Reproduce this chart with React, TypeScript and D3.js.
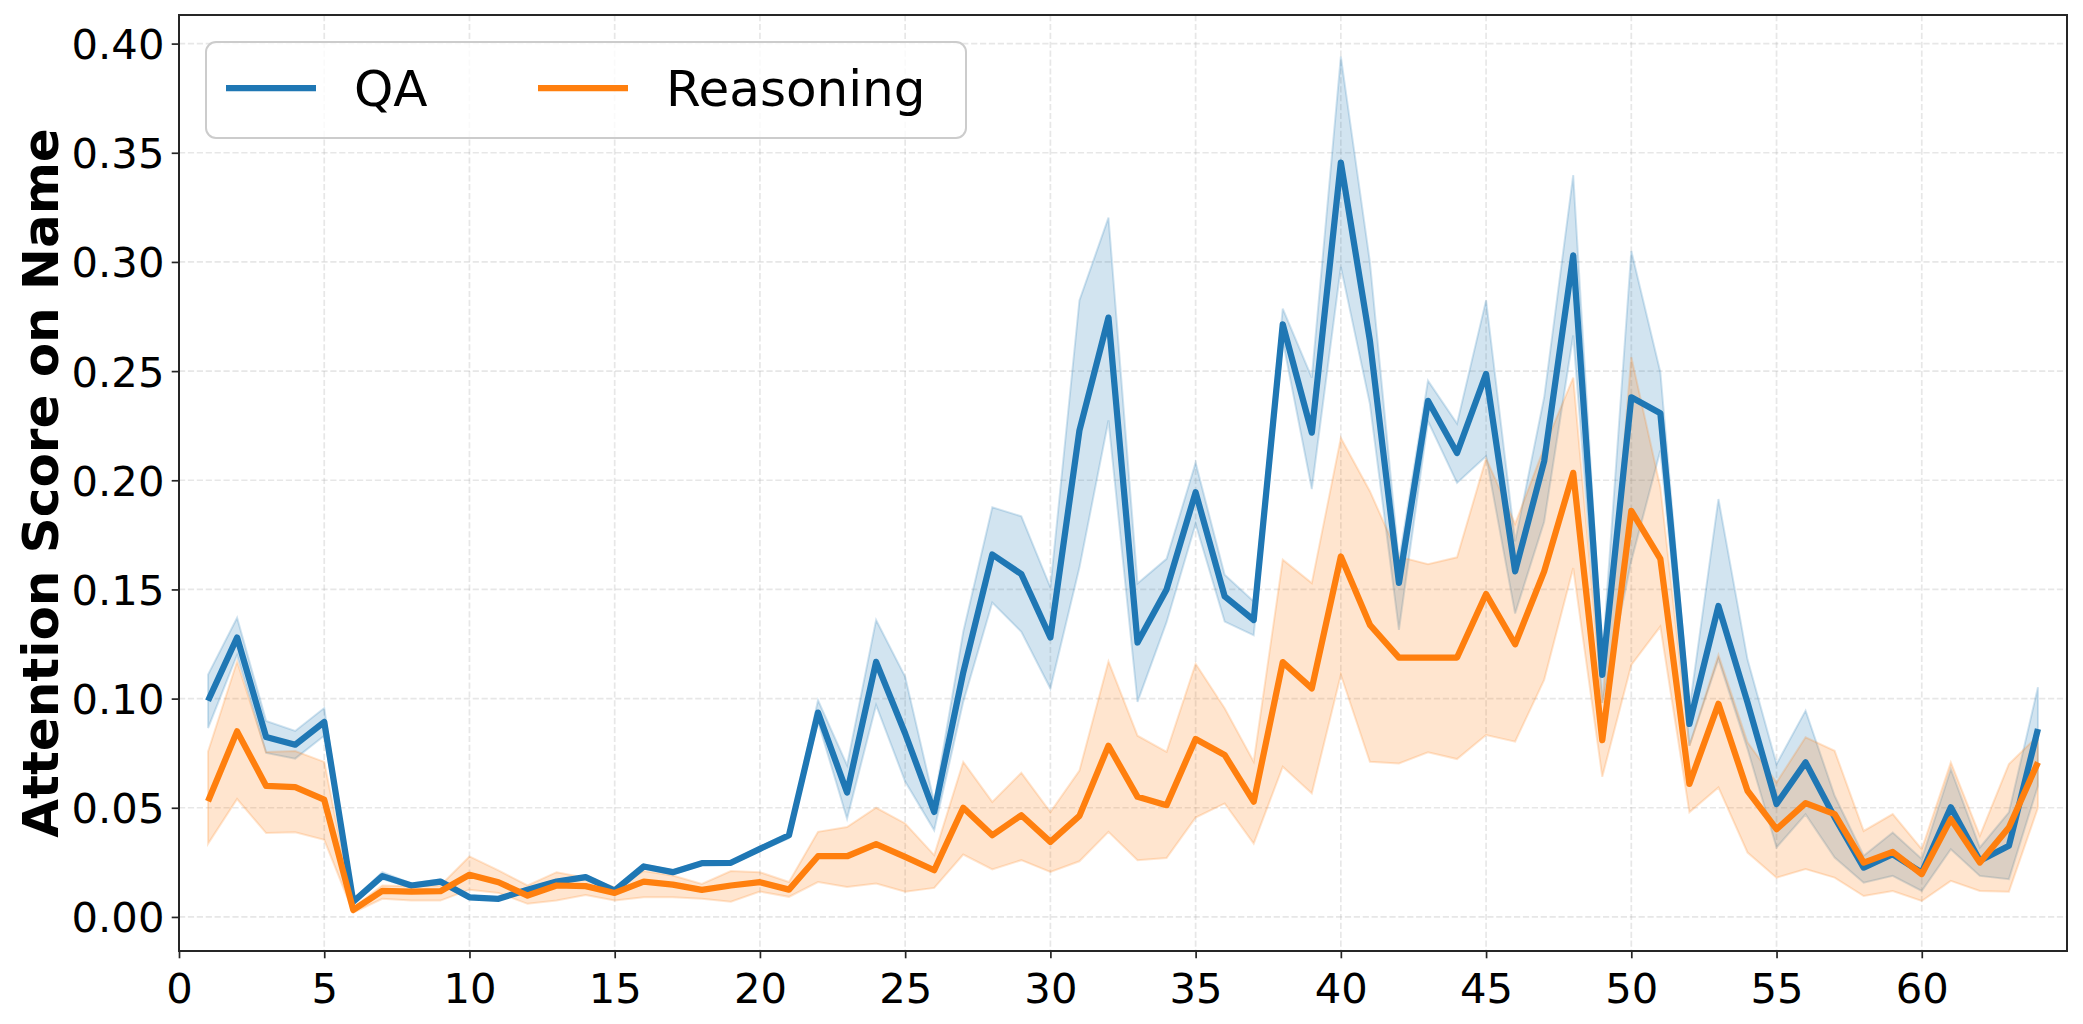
import { useEffect, useRef } from 'react';
import * as d3 from 'd3';

// layer index 1..64
const layers = d3.range(1, 65);

const qaMean = [
  0.099, 0.128, 0.0824, 0.0789, 0.0893, 0.007, 0.0187, 0.0144, 0.0162, 0.009,
  0.0083, 0.0125, 0.0162, 0.0182, 0.0121, 0.0231, 0.0205, 0.0246, 0.0248, 0.0312,
  0.0374, 0.0936, 0.057, 0.1168, 0.084, 0.0481, 0.112, 0.166, 0.157, 0.128,
  0.2228, 0.2745, 0.1257, 0.15, 0.1945, 0.1468, 0.136, 0.2714, 0.2218, 0.3455,
  0.264, 0.153, 0.2364, 0.2125, 0.2487, 0.1583, 0.2087, 0.303, 0.1109, 0.238,
  0.2307, 0.0884, 0.1424, 0.0983, 0.0517, 0.0708, 0.0456, 0.0226, 0.0287, 0.0203,
  0.0502, 0.0257, 0.0326, 0.0861,
];
const qaLower = [
  0.0865, 0.12, 0.0751, 0.0725, 0.083, 0.006, 0.0174, 0.0135, 0.0152, 0.0082,
  0.0076, 0.0117, 0.0154, 0.0173, 0.0113, 0.0222, 0.0196, 0.0238, 0.024, 0.0303,
  0.036, 0.0894, 0.045, 0.097, 0.062, 0.0397, 0.0985, 0.144, 0.1306, 0.1046,
  0.16, 0.2274, 0.0985, 0.135, 0.18, 0.1353, 0.129, 0.264, 0.196, 0.2977,
  0.235, 0.1315, 0.227, 0.1988, 0.211, 0.139, 0.181, 0.2663, 0.098, 0.163,
  0.2136, 0.0784, 0.118, 0.077, 0.0318, 0.047, 0.0272, 0.0157, 0.0188, 0.0119,
  0.031, 0.0188, 0.0173, 0.06,
];
const qaUpper = [
  0.111, 0.137, 0.0898, 0.0852, 0.0957, 0.008, 0.0205, 0.0153, 0.0172, 0.0098,
  0.009, 0.0133, 0.017, 0.0191, 0.0129, 0.024, 0.0214, 0.0254, 0.0256, 0.0321,
  0.0385, 0.0993, 0.0695, 0.136, 0.11, 0.0527, 0.1306, 0.1876, 0.1835, 0.151,
  0.2824, 0.3203, 0.1527, 0.164, 0.208, 0.1567, 0.1445, 0.2786, 0.247, 0.394,
  0.3, 0.163, 0.2456, 0.226, 0.2824, 0.172, 0.238, 0.3398, 0.118, 0.305,
  0.2495, 0.0953, 0.1914, 0.118, 0.07, 0.0945, 0.0555, 0.028, 0.0387, 0.0265,
  0.0677, 0.0318, 0.0479, 0.1052,
];

const reasoningMean = [
  0.053, 0.085, 0.06, 0.0595, 0.0537, 0.0032, 0.0119, 0.0116, 0.0118, 0.0193,
  0.0159, 0.0098, 0.0144, 0.0141, 0.011, 0.0162, 0.0148, 0.0124, 0.0144, 0.0159,
  0.0125, 0.0278, 0.0278, 0.0333, 0.0275, 0.0214, 0.05, 0.0374, 0.0466, 0.0344,
  0.0463, 0.0784, 0.055, 0.0512, 0.0815, 0.0742, 0.0528, 0.1167, 0.1047, 0.1651,
  0.1338, 0.1188, 0.1188, 0.1188, 0.1479, 0.1249, 0.1583, 0.2034, 0.081, 0.186,
  0.164, 0.0609, 0.0976, 0.0578, 0.0402, 0.0521, 0.0471, 0.0249, 0.0298, 0.0196,
  0.0448, 0.0249, 0.041, 0.0708,
];
const reasoningLower = [
  0.0335, 0.054, 0.0384, 0.0388, 0.0353, 0.002, 0.0083, 0.0075, 0.0075, 0.0125,
  0.011, 0.006, 0.0075, 0.01, 0.0075, 0.009, 0.009, 0.0083, 0.007, 0.0116,
  0.0092, 0.016, 0.0137, 0.0153, 0.0115, 0.0133, 0.0286, 0.0218, 0.026, 0.0206,
  0.0255, 0.039, 0.026, 0.027, 0.0455, 0.052, 0.0336, 0.0688, 0.0566, 0.1109,
  0.0711, 0.0703, 0.0754, 0.0723, 0.0833, 0.0803, 0.1086, 0.1598, 0.0642, 0.1154,
  0.133, 0.0479, 0.0593, 0.0295, 0.018, 0.0219, 0.018, 0.0096, 0.0119, 0.0073,
  0.0165, 0.0119, 0.0115, 0.05,
];
const reasoningUpper = [
  0.0758, 0.117, 0.0755, 0.076, 0.071, 0.0044, 0.0144, 0.014, 0.0144, 0.0277,
  0.0213, 0.0144, 0.0205, 0.018, 0.0136, 0.021, 0.019, 0.0151, 0.021, 0.0205,
  0.016, 0.039, 0.0412, 0.05, 0.0428, 0.0283, 0.071, 0.0527, 0.066, 0.048,
  0.067, 0.117, 0.083, 0.0756, 0.116, 0.0956, 0.0711, 0.1636, 0.1529, 0.2194,
  0.195, 0.165, 0.1616, 0.1647, 0.21, 0.18, 0.215, 0.247, 0.098, 0.2564,
  0.1968, 0.0784, 0.12, 0.08, 0.0616, 0.0823, 0.0761, 0.0394, 0.0471, 0.031,
  0.0708, 0.0372, 0.07, 0.083,
];

const xTicks = d3.range(0, 65, 5);
const yTicks = d3.range(0, 0.401, 0.05);

const series = [
  { name: 'QA', color: '#1f77b4', mean: qaMean, lower: qaLower, upper: qaUpper },
  { name: 'Reasoning', color: '#ff7f0e', mean: reasoningMean, lower: reasoningLower, upper: reasoningUpper },
];

const WIDTH = 2083;
const HEIGHT = 1024;
const FONT = 'DejaVu Sans, sans-serif';

export default function App() {
  const svgRef = useRef<SVGSVGElement>(null);

  useEffect(() => {
    document.body.style.margin = '0';
    if (!svgRef.current) return;

    const svg = d3.select(svgRef.current);
    svg.selectAll('*').remove();

    const margin = { top: 15, right: 16, bottom: 73, left: 179 };
    const innerWidth = WIDTH - margin.left - margin.right;
    const innerHeight = HEIGHT - margin.top - margin.bottom;

    const g = svg.append('g')
      .attr('transform', `translate(${margin.left},${margin.top})`);

    const xScale = d3.scaleLinear().domain([0, 65]).range([0, innerWidth]);
    const yScale = d3.scaleLinear().domain([-0.0156, 0.4131]).range([innerHeight, 0]);

    // Grid lines
    g.selectAll('.grid-y')
      .data(yTicks)
      .enter()
      .append('line')
      .attr('x1', 0)
      .attr('x2', innerWidth)
      .attr('y1', d => yScale(d))
      .attr('y2', d => yScale(d))
      .attr('stroke', '#b0b0b0')
      .attr('stroke-opacity', 0.3)
      .attr('stroke-width', 1.7)
      .attr('stroke-dasharray', '6.2,2.7');

    g.selectAll('.grid-x')
      .data(xTicks)
      .enter()
      .append('line')
      .attr('x1', d => xScale(d))
      .attr('x2', d => xScale(d))
      .attr('y1', 0)
      .attr('y2', innerHeight)
      .attr('stroke', '#b0b0b0')
      .attr('stroke-opacity', 0.3)
      .attr('stroke-width', 1.7)
      .attr('stroke-dasharray', '6.2,2.7');

    // Confidence bands
    series.forEach(s => {
      const area = d3.area<number>()
        .x(d => xScale(d))
        .y0((_, i) => yScale(s.lower[i]))
        .y1((_, i) => yScale(s.upper[i]));

      g.append('path')
        .datum(layers)
        .attr('fill', s.color)
        .attr('fill-opacity', 0.2)
        .attr('stroke', s.color)
        .attr('stroke-opacity', 0.2)
        .attr('stroke-width', 2)
        .attr('d', area);
    });

    // Mean lines
    series.forEach(s => {
      const line = d3.line<number>()
        .x(d => xScale(d))
        .y((_, i) => yScale(s.mean[i]));

      g.append('path')
        .datum(layers)
        .attr('fill', 'none')
        .attr('stroke', s.color)
        .attr('stroke-width', 6.25)
        .attr('stroke-linejoin', 'round')
        .attr('stroke-linecap', 'butt')
        .attr('d', line);
    });

    // X Axis
    const xAxis = g.append('g')
      .attr('transform', `translate(0,${innerHeight})`)
      .call(d3.axisBottom(xScale).tickValues(xTicks).tickSize(7.3).tickPadding(7.3).tickFormat(d3.format('d')));

    xAxis.select('.domain').remove();
    xAxis.selectAll('line').attr('stroke', '#262626').attr('stroke-width', 1.7);
    xAxis.selectAll('text')
      .attr('dy', '0.9em')
      .style('font-family', FONT)
      .style('font-size', '41.7px')
      .style('fill', '#000');

    // Y Axis
    const yAxis = g.append('g')
      .call(d3.axisLeft(yScale).tickValues(yTicks).tickSize(7.3).tickPadding(7.3).tickFormat(d3.format('.2f')));

    yAxis.select('.domain').remove();
    yAxis.selectAll('line').attr('stroke', '#262626').attr('stroke-width', 1.7);
    yAxis.selectAll('text')
      .attr('dy', '0.36em')
      .style('font-family', FONT)
      .style('font-size', '41.7px')
      .style('fill', '#000');

    // Frame
    g.append('rect')
      .attr('x', 0)
      .attr('y', 0)
      .attr('width', innerWidth)
      .attr('height', innerHeight)
      .attr('fill', 'none')
      .attr('stroke', '#262626')
      .attr('stroke-width', 2);

    // Y label
    svg.append('text')
      .attr('transform', `translate(58,${margin.top + innerHeight / 2}) rotate(-90)`)
      .attr('text-anchor', 'middle')
      .style('font-family', FONT)
      .style('font-size', '50px')
      .style('font-weight', 'bold')
      .text('Attention Score on Name');

    // Legend
    const fs = 50;
    const legend = g.append('g').attr('transform', `translate(27,27)`);
    legend.append('rect')
      .attr('x', 0)
      .attr('y', 0)
      .attr('width', 760)
      .attr('height', 96)
      .attr('rx', 10)
      .attr('fill', '#fff')
      .attr('fill-opacity', 0.8)
      .attr('stroke', '#cccccc')
      .attr('stroke-width', 2);

    const items = legend.selectAll('.legend-item')
      .data(series)
      .enter()
      .append('g')
      .attr('transform', (_, i) => `translate(${i === 0 ? 20 : 332},0)`);

    items.append('line')
      .attr('x1', 0)
      .attr('x2', 90)
      .attr('y1', 46)
      .attr('y2', 46)
      .attr('stroke', d => d.color)
      .attr('stroke-width', 6.25);

    items.append('text')
      .attr('x', 128)
      .attr('y', 64)
      .style('font-family', FONT)
      .style('font-size', `${fs}px`)
      .style('fill', '#000')
      .text(d => d.name);
  }, []);

  return <svg ref={svgRef} width={WIDTH} height={HEIGHT} style={{ display: 'block', background: '#fff' }} />;
}
